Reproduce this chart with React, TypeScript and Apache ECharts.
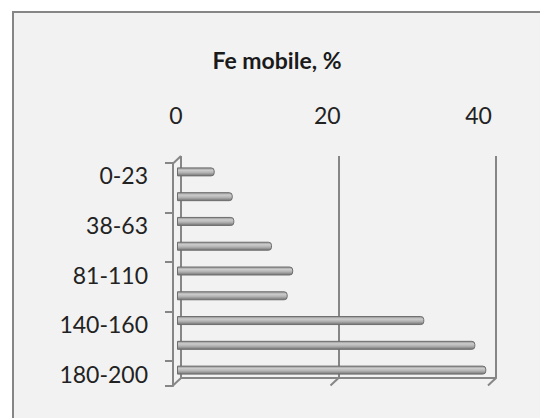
import React, { useEffect, useRef } from "react";
import * as echarts from "echarts";

const title = "Fe mobile, %";
const categories = ["0-23", "23-38", "38-63", "63-81", "81-110", "110-140", "140-160", "160-180", "180-200"];
const values = [4.8, 7.1, 7.3, 12.1, 14.8, 14.1, 31.5, 38.0, 39.4];
const xMin = 0;
const xMax = 40;
const xInterval = 20;
const xTicks = [0, 20, 40];

const FONT = "Lato";
const GRID_COLOR = "#868686";

export default function App() {
  const ref = useRef<HTMLDivElement>(null);
  useEffect(() => {
    const chart = echarts.init(ref.current!, undefined, { renderer: "svg" });
    const diagData = xTicks.map((v) => [v, 0]).concat([[xMin, 1]]);
    chart.setOption({
      animation: false,
      backgroundColor: "#ffffff",
      title: {
        text: title,
        left: 272,
        textAlign: "center",
        top: 43,
        textStyle: { fontFamily: FONT, fontWeight: "bold", fontSize: 23, color: "#1a1a1a" },
      },
      graphic: [
        {
          type: "rect",
          z: -10,
          shape: { x: 13, y: 12, width: 545, height: 420 },
          style: { fill: "#f2f2f2", stroke: GRID_COLOR, lineWidth: 2 },
        },
      ],
      grid: [
        { left: 181, top: 156, width: 315, height: 222 },
        { left: 177, top: 159.5, width: 314, height: 223 },
        { left: 173, top: 163, width: 314, height: 223 },
        { left: 176, top: 156, width: 302.5, height: 222 },
      ],
      xAxis: [
        {
          gridIndex: 0, type: "value", min: xMin, max: xMax, interval: xInterval, position: "top",
          axisLine: { show: true, lineStyle: { color: GRID_COLOR, width: 2 } },
          axisTick: { show: true, length: 9, lineStyle: { color: GRID_COLOR, width: 2 } },
          splitLine: { show: true, lineStyle: { color: GRID_COLOR, width: 2 } },
          axisLabel: { show: false },
        },
        { gridIndex: 1, type: "value", min: xMin, max: xMax, show: false },
        { gridIndex: 2, type: "value", min: xMin, max: xMax, show: false },
        {
          gridIndex: 3, type: "value", min: xMin, max: xMax, interval: xInterval, position: "top",
          axisLine: { show: false }, axisTick: { show: false }, splitLine: { show: false },
          axisLabel: { show: true, margin: 30, fontFamily: FONT, fontSize: 23, color: "#222" },
        },
      ],
      yAxis: [
        { gridIndex: 0, type: "value", min: 0, max: 1, show: false },
        { gridIndex: 1, type: "category", data: categories, inverse: true, show: false },
        {
          gridIndex: 2, type: "category", data: categories, inverse: true,
          axisLine: { show: true, lineStyle: { color: GRID_COLOR, width: 2 } },
          axisTick: { show: true, length: 8, lineStyle: { color: GRID_COLOR, width: 2 } },
          axisLabel: { show: true, interval: 1, margin: 25, fontFamily: FONT, fontSize: 23, color: "#222" },
          splitLine: { show: false },
        },
        { gridIndex: 3, type: "value", min: 0, max: 1, show: false },
      ],
      series: [
        {
          type: "custom",
          xAxisIndex: 0,
          yAxisIndex: 0,
          data: diagData,
          renderItem: (params: any, api: any) => {
            const p = api.coord([api.value(0), api.value(1)]);
            return {
              type: "line",
              shape: { x1: p[0], y1: p[1], x2: p[0] - 8, y2: p[1] + 7.5 },
              style: { stroke: GRID_COLOR, lineWidth: 2 },
            };
          },
        },
        {
          type: "bar",
          xAxisIndex: 1,
          yAxisIndex: 1,
          data: values,
          barWidth: 9,
          itemStyle: {
            color: new echarts.graphic.LinearGradient(0, 0, 0, 1, [
              { offset: 0, color: "#929292" },
              { offset: 0.3, color: "#cccccc" },
              { offset: 0.6, color: "#b2b2b2" },
              { offset: 1, color: "#727272" },
            ]),
            borderColor: "#6e6e6e",
            borderWidth: 1,
            borderRadius: [0, 3, 3, 0],
          },
        },
      ],
    });
    return () => chart.dispose();
  }, []);
  return (
    <div
      ref={ref}
      style={{ position: "fixed", left: 0, top: 0, width: 540, height: 418 }}
    />
  );
}
